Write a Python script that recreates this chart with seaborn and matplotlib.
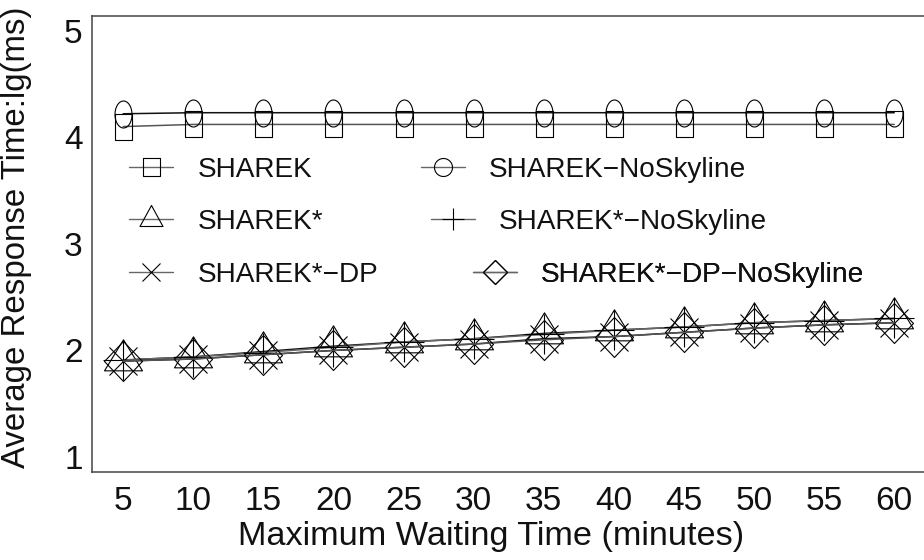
import numpy as np
import pandas as pd
import matplotlib
matplotlib.use("Agg")
import matplotlib.pyplot as plt
from matplotlib.path import Path
from matplotlib.lines import Line2D
import seaborn as sns

# Maximum waiting time (minutes)
waiting = [5, 10, 15, 20, 25, 30, 35, 40, 45, 50, 55, 60]

# Average response time, lg(ms)
sharek = [4.10, 4.12, 4.12, 4.12, 4.12, 4.12, 4.12, 4.12, 4.12, 4.12, 4.12, 4.12]
sharek_nosky = [4.22, 4.23, 4.23, 4.23, 4.23, 4.23, 4.23, 4.23, 4.23, 4.23, 4.23, 4.23]
sharek_star = [1.91, 1.94, 1.99, 2.04, 2.08, 2.11, 2.16, 2.19, 2.22, 2.26, 2.28, 2.30]
sharek_star_nosky = [1.91, 1.94, 1.98, 2.03, 2.08, 2.11, 2.15, 2.19, 2.22, 2.26, 2.28, 2.30]
sharek_dp = [1.90, 1.92, 1.96, 2.00, 2.03, 2.06, 2.11, 2.13, 2.17, 2.21, 2.24, 2.26]
sharek_dp_nosky = [1.90, 1.92, 1.96, 2.00, 2.03, 2.06, 2.10, 2.13, 2.17, 2.21, 2.24, 2.26]

labels = ["SHAREK", "SHAREK\u2212NoSkyline", "SHAREK*", "SHAREK*\u2212NoSkyline",
          "SHAREK*\u2212DP", "SHAREK*\u2212DP\u2212NoSkyline"]
series = [sharek, sharek_nosky, sharek_star, sharek_star_nosky, sharek_dp, sharek_dp_nosky]

y_ticks = [1, 2, 3, 4, 5]

df = pd.DataFrame({
    "waiting": np.tile(waiting, len(series)),
    "time": np.concatenate(series),
    "method": np.repeat(labels, len(waiting)),
})

sns.set_style("white")
plt.rcParams["font.family"] = ["Liberation Sans", "DejaVu Sans"]

PX = 0.72  # points per pixel at 100 dpi


def marker_from(verts, codes=None):
    verts = np.asarray(verts, float)
    size = 2 * np.abs(verts).max() * PX
    return Path(verts, codes), size


def ellipse(w, h, n=60):
    t = np.linspace(0, 2 * np.pi, n)
    v = np.column_stack([w / 2 * np.cos(t), h / 2 * np.sin(t)])
    return marker_from(v)


def rect(w, h):
    v = [(-w / 2, -h / 2), (w / 2, -h / 2), (w / 2, h / 2), (-w / 2, h / 2), (-w / 2, -h / 2)]
    return marker_from(v, [Path.MOVETO] + [Path.LINETO] * 3 + [Path.CLOSEPOLY])


def tri(w, h):
    v = [(0, 2 * h / 3), (-w / 2, -h / 3), (w / 2, -h / 3), (0, 2 * h / 3)]
    return marker_from(v, [Path.MOVETO, Path.LINETO, Path.LINETO, Path.CLOSEPOLY])


def diamond(w, h):
    v = [(0, h / 2), (-w / 2, 0), (0, -h / 2), (w / 2, 0), (0, h / 2)]
    return marker_from(v, [Path.MOVETO] + [Path.LINETO] * 3 + [Path.CLOSEPOLY])


def cross(s):
    v = [(-s / 2, -s / 2), (s / 2, s / 2), (-s / 2, s / 2), (s / 2, -s / 2)]
    return marker_from(v, [Path.MOVETO, Path.LINETO, Path.MOVETO, Path.LINETO])


def plus(s):
    v = [(-s / 2, 0), (s / 2, 0), (0, -s / 2), (0, s / 2)]
    return marker_from(v, [Path.MOVETO, Path.LINETO, Path.MOVETO, Path.LINETO])


plot_markers = [rect(17, 26), ellipse(17, 27), tri(38, 31), plus(40), cross(28), diamond(38, 40)]
legend_markers = [rect(17, 18), ellipse(18, 18), tri(23, 21), plus(23), cross(18), diamond(24, 24)]
line_colors = ["#555555", "#111111", "#111111", "#666666", "#111111", "#555555"]

fig = plt.figure(figsize=(9.24, 5.6), dpi=100)
W, H = 924, 560
ax_left, ax_right, ax_top, ax_bottom = 92.3, 926.5, 15.7, 472.3
ax = fig.add_axes([ax_left / W, (H - ax_bottom) / H,
                   (ax_right - ax_left) / W, (ax_bottom - ax_top) / H])

for lab, (mk, ms), col in zip(labels, plot_markers, line_colors):
    sns.lineplot(data=df[df["method"] == lab], x="waiting", y="time", ax=ax,
                 color=col, linewidth=1.1, marker=mk, markersize=ms,
                 markerfacecolor="none", markeredgecolor="black",
                 markeredgewidth=0.8, legend=False)

ax.set_xlim(2.8, 62.3)
ax.set_ylim(0.857, 5.14)
ax.set_xticks(waiting)
ax.set_yticks(y_ticks)
ax.tick_params(direction="in", length=4, width=0.9, color="#444444",
               labelsize=24, labelcolor="#111111")
ax.tick_params(axis="x", pad=10)
ax.tick_params(axis="y", pad=7)
for sp in ax.spines.values():
    sp.set_color("#444444")
    sp.set_linewidth(1.1)

ax.set_xlabel("Maximum Waiting Time (minutes)", fontsize=24.7, color="#111111")
ax.set_ylabel("Average Response Time:lg(ms)", fontsize=23.8, color="#111111")
ax.xaxis.set_label_coords((491.5 - ax_left) / (ax_right - ax_left),
                          -(537 - ax_bottom) / (ax_bottom - ax_top))
ax.xaxis.label.set_va("center")
ax.yaxis.set_label_coords(-(92.3 - 17) / (ax_right - ax_left),
                          (ax_bottom - 237) / (ax_bottom - ax_top))
ax.yaxis.label.set_va("center")

# legend entries, placed individually (line start x, row centre y) in pixels
entry_pos = [(129.3, 170), (421.0, 170), (129.3, 222), (431.0, 222), (129.3, 275), (472.7, 275)]
leg_fs = 20.2
for lab, (mk, ms), (px, py) in zip(labels, legend_markers, entry_pos):
    h = Line2D([], [], color="#666666", linewidth=1.0, marker=mk, markersize=ms,
               markerfacecolor="none", markeredgecolor="black", markeredgewidth=0.8)
    xa = (px - ax_left) / (ax_right - ax_left)
    ya = (ax_bottom - py) / (ax_bottom - ax_top)
    fs_px = leg_fs / PX
    leg = ax.legend(handles=[h], labels=[lab], loc="center left", bbox_to_anchor=(xa, ya),
                    frameon=False, borderpad=0, borderaxespad=0, fontsize=leg_fs,
                    handlelength=44 / fs_px, handletextpad=24 / fs_px, labelcolor="#111111")
    ax.add_artist(leg)

fig.savefig("out.png", dpi=100)
